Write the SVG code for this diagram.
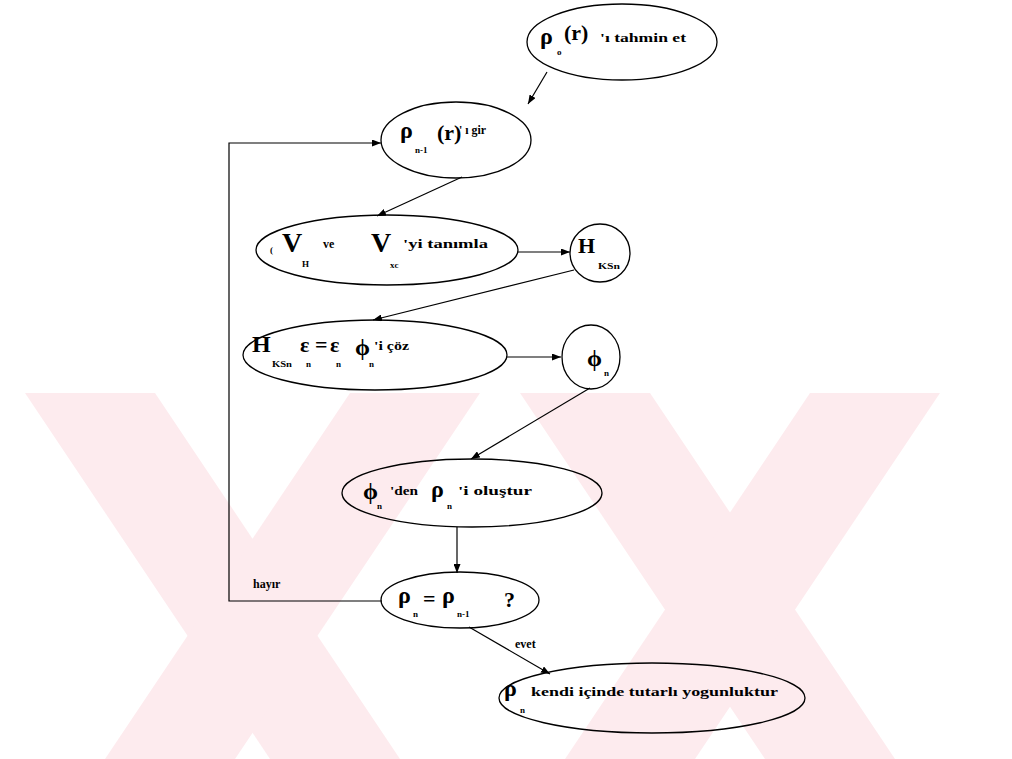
<svg xmlns="http://www.w3.org/2000/svg" width="1012" height="759" viewBox="0 0 1012 759">
  <defs>
    <style>
      .wm { fill: #fdebee; stroke: none; }
      .shape { fill: none; stroke: #000; stroke-width: 1.3; }
      .edge { fill: none; stroke: #000; stroke-width: 1.2; }
      text { font-family: "Liberation Serif", "Times New Roman", serif; font-weight: bold; fill: #000; }
      .sym { font-size: 24px; }
      .big { font-size: 28px; }
      .par { font-size: 22px; }
      .lbl { font-size: 12px; }
      .sub { font-size: 9px; }
    </style>
    <marker id="arr" markerUnits="userSpaceOnUse" markerWidth="9" markerHeight="7" refX="9" refY="3.5" orient="auto">
      <path d="M0,0 L9,3.5 L0,7 z" fill="#000"/>
    </marker>
  </defs>

  <rect width="1012" height="759" fill="#fff"/>

  <!-- background watermark bands -->
  <g id="watermark">
    <polygon class="wm" points="25,393 155,393 400,759 270,759"/>
    <polygon class="wm" points="350,393 480,393 235,759 105,759"/>
    <polygon class="wm" points="520,393 650,393 895,759 765,759"/>
    <polygon class="wm" points="810,393 940,393 695,759 565,759"/>
  </g>

  <!-- connectors -->
  <g id="connectors">
    <line class="edge" x1="547" y1="72" x2="528" y2="104" marker-end="url(#arr)"/>
    <line class="edge" x1="462" y1="177" x2="377" y2="216" marker-end="url(#arr)"/>
    <line class="edge" x1="518" y1="252" x2="570" y2="252" marker-end="url(#arr)"/>
    <line class="edge" x1="574" y1="270" x2="373" y2="320" marker-end="url(#arr)"/>
    <line class="edge" x1="507" y1="357" x2="561" y2="357" marker-end="url(#arr)"/>
    <line class="edge" x1="590" y1="388" x2="471" y2="459" marker-end="url(#arr)"/>
    <line class="edge" x1="457" y1="527" x2="457" y2="573" marker-end="url(#arr)"/>
    <polyline class="edge" points="382,601 229,601 229,143 381,143" marker-end="url(#arr)"/>
    <line class="edge" x1="469" y1="627" x2="550" y2="674" marker-end="url(#arr)"/>
    <text class="lbl" x="253" y="588">hayır</text>
    <text class="lbl" x="515" y="648">evet</text>
  </g>

  <!-- start: initial density guess -->
  <g id="n-guess">
    <ellipse class="shape" cx="622" cy="42" rx="95" ry="38"/>
    <text class="sym" x="540" y="44">ρ</text>
    <text class="sub" x="557" y="55">o</text>
    <text class="par" x="564" y="40">(r)</text>
    <text class="lbl" x="600" y="42" textLength="86" lengthAdjust="spacingAndGlyphs">'ı tahmin et</text>
  </g>

  <g id="n-input">
    <ellipse class="shape" cx="456" cy="140" rx="75" ry="38"/>
    <text class="sym" x="400" y="138">ρ</text>
    <text class="sub" x="415" y="153">n-1</text>
    <text class="par" x="437" y="140">(r)</text>
    <text class="lbl" x="459" y="134" textLength="27" lengthAdjust="spacingAndGlyphs">' ı gir</text>
  </g>

  <g id="n-potentials">
    <ellipse class="shape" cx="387" cy="250" rx="131" ry="35"/>
    <text class="sub" x="270" y="253">(</text>
    <text class="big" x="282" y="252">V</text>
    <text class="sub" x="302" y="267">H</text>
    <text class="lbl" x="323" y="248">ve</text>
    <text class="big" x="371" y="252">V</text>
    <text class="sub" x="390" y="268">xc</text>
    <text class="lbl" x="403" y="248" textLength="85" lengthAdjust="spacingAndGlyphs">'yi tanımla</text>
  </g>

  <g id="n-hamiltonian">
    <ellipse class="shape" cx="600" cy="253" rx="30" ry="29"/>
    <text class="par" x="578" y="253">H</text>
    <text class="sub" x="598" y="269" textLength="22" lengthAdjust="spacingAndGlyphs">KSn</text>
  </g>

  <g id="n-solve">
    <ellipse class="shape" cx="375" cy="355" rx="132" ry="35"/>
    <text class="sym" x="252" y="352">H</text>
    <text class="sub" x="272" y="367" textLength="20" lengthAdjust="spacingAndGlyphs">KSn</text>
    <text class="par" x="300" y="352">ε</text>
    <text class="sub" x="306" y="367">n</text>
    <text class="par" x="315" y="352">=</text>
    <text class="par" x="330" y="352">ε</text>
    <text class="sub" x="336" y="367">n</text>
    <text class="sym" x="355" y="355">ϕ</text>
    <text class="sub" x="369" y="367">n</text>
    <text class="lbl" x="374" y="350" textLength="35" lengthAdjust="spacingAndGlyphs">'i çöz</text>
  </g>

  <g id="n-orbitals">
    <ellipse class="shape" cx="591" cy="357" rx="29" ry="32"/>
    <text class="sym" x="587" y="366">ϕ</text>
    <text class="sub" x="604" y="376">n</text>
  </g>

  <g id="n-density">
    <ellipse class="shape" cx="472" cy="493" rx="130" ry="34"/>
    <text class="sym" x="363" y="499">ϕ</text>
    <text class="sub" x="377" y="509">n</text>
    <text class="lbl" x="390" y="495" textLength="28" lengthAdjust="spacingAndGlyphs">'den</text>
    <text class="sym" x="431" y="497">ρ</text>
    <text class="sub" x="447" y="509">n</text>
    <text class="lbl" x="458" y="495" textLength="74" lengthAdjust="spacingAndGlyphs">'i oluştur</text>
  </g>

  <g id="n-check">
    <ellipse class="shape" cx="460" cy="600" rx="79" ry="28"/>
    <text class="sym" x="398" y="603">ρ</text>
    <text class="sub" x="413" y="617">n</text>
    <text class="par" x="423" y="606">=</text>
    <text class="sym" x="442" y="603">ρ</text>
    <text class="sub" x="457" y="617">n-1</text>
    <text class="par" x="504" y="607">?</text>
  </g>

  <g id="n-result">
    <ellipse class="shape" cx="652" cy="698" rx="153" ry="35"/>
    <text class="sym" x="504" y="696">ρ</text>
    <text class="sub" x="520" y="713">n</text>
    <text class="lbl" x="531" y="696" textLength="247" lengthAdjust="spacingAndGlyphs">kendi içinde tutarlı yogunluktur</text>
  </g>
</svg>
